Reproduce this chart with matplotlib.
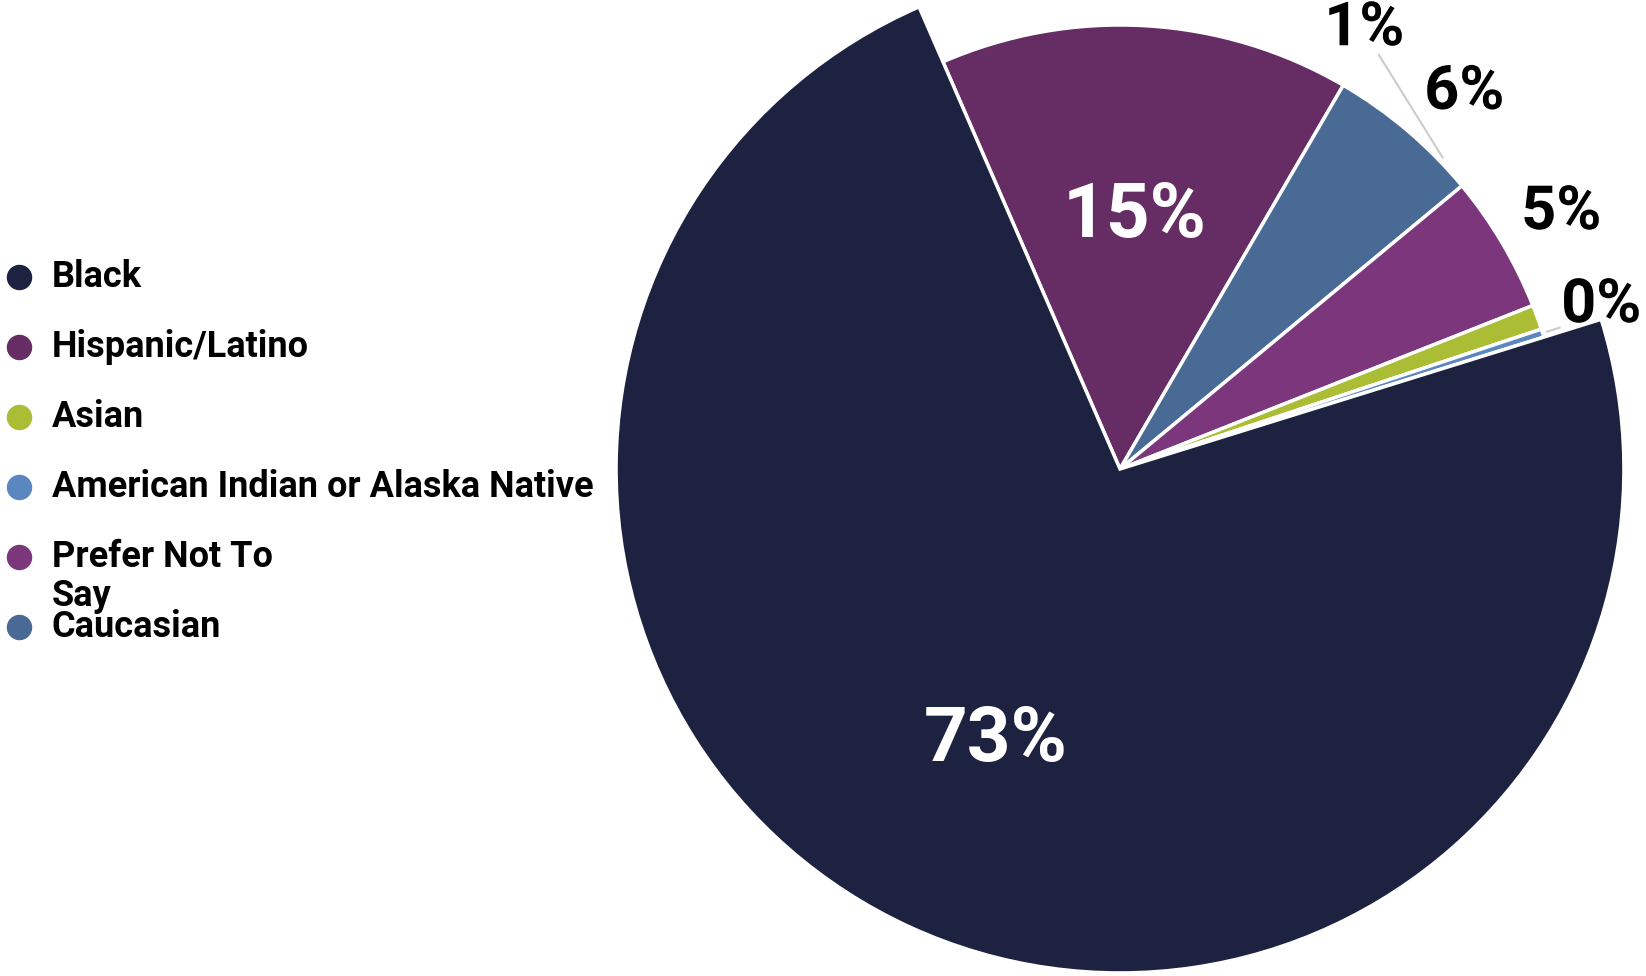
#!/usr/bin/env python3
"""Pie chart of respondents by race/ethnicity."""

import numpy as np
import matplotlib.pyplot as plt
import matplotlib.patheffects as pe

plt.rcParams['font.family'] = ['Roboto', 'DejaVu Sans']

# legend order
CATEGORIES = ['Black', 'Hispanic/Latino', 'Asian', 'American Indian or Alaska Native',
              'Prefer Not To\nSay', 'Caucasian']
VALUES = [73.2, 14.9, 0.9, 0.3, 5.0, 5.6]
LABELS = ['73%', '15%', '1%', '0%', '5%', '6%']
COLORS = ['#1c2240', '#652d64', '#abbc35', '#5b87c0', '#7b367c', '#4a6a96']

# order of the slices clockwise from the top edge of the Black slice
PIE_ORDER = [1, 5, 4, 2, 3, 0]

# where the outside labels sit: (angle in degrees, distance in radii)
OUTSIDE_POS = {2: (61.0, 1.135), 3: (18.8, 1.145), 4: (30.2, 1.15), 5: (47.6, 1.15)}


def main():
    fig = plt.figure(figsize=(16.46, 9.76), dpi=100)
    ax = fig.add_axes([0, 0, 1, 1])

    cx, cy, r = 1120, 507, 444
    vals = [VALUES[i] for i in PIE_ORDER]
    cols = [COLORS[i] for i in PIE_ORDER]
    wedges, _ = ax.pie(vals, colors=cols, startangle=113.5, counterclock=False,
                       center=(cx, cy), radius=r,
                       wedgeprops=dict(edgecolor='white', linewidth=2.5))

    big = 1.135  # the Black slice is drawn larger than the rest
    for w, idx in zip(wedges, PIE_ORDER):
        rad = r * big if idx == 0 else r
        w.set_radius(rad)
        mid = np.deg2rad((w.theta1 + w.theta2) / 2)
        label = LABELS[idx]
        if idx not in OUTSIDE_POS:
            f = 0.592 if idx == 0 else 0.57
            tx, ty = cx + f * rad * np.cos(mid), cy + f * rad * np.sin(mid)
            ax.text(tx, ty, label, color='white', fontsize=55, fontweight='bold',
                    ha='center', va='center')
            continue
        if idx == 2:
            # Asian label sits higher up, with a leader line
            a0, a1 = np.deg2rad(58), np.deg2rad(44)
            ax.plot([cx + 1.10 * r * np.cos(a0), cx + 1.01 * r * np.cos(a1)],
                    [cy + 1.10 * r * np.sin(a0), cy + 1.01 * r * np.sin(a1)],
                    color='#cccccc', lw=1.5, zorder=1)
        elif idx == 3:
            ax.plot([cx + 1.01 * r * np.cos(mid), cx + 1.04 * r * np.cos(mid)],
                    [cy + 1.01 * r * np.sin(mid), cy + 1.04 * r * np.sin(mid)],
                    color='#cccccc', lw=1.5, zorder=1)
        ang, dist = OUTSIDE_POS[idx]
        ang = np.deg2rad(ang)
        tx, ty = cx + dist * r * np.cos(ang), cy + dist * r * np.sin(ang)
        ax.text(tx, ty, label, color='black', fontsize=44, fontweight='bold',
                ha='center', va='center', zorder=5,
                path_effects=[pe.withStroke(linewidth=4, foreground='white')])

    # legend, drawn at fixed pixel rows
    for i, (name, col) in enumerate(zip(CATEGORIES, COLORS)):
        y = 976 - (277 + 70 * i)
        ax.scatter([19], [y], s=300, color=col, zorder=5)
        lines = name.split('\n')
        ax.text(52, y, lines[0], fontsize=26, fontweight='bold',
                ha='left', va='center')
        if len(lines) > 1:
            ax.text(52, y - 39, lines[1], fontsize=26, fontweight='bold',
                    ha='left', va='center')

    ax.set_xlim(0, 1646)
    ax.set_ylim(0, 976)
    ax.set_aspect('equal')
    ax.axis('off')

    fig.savefig('out.png', dpi=100, facecolor='white')


if __name__ == "__main__":
    main()
